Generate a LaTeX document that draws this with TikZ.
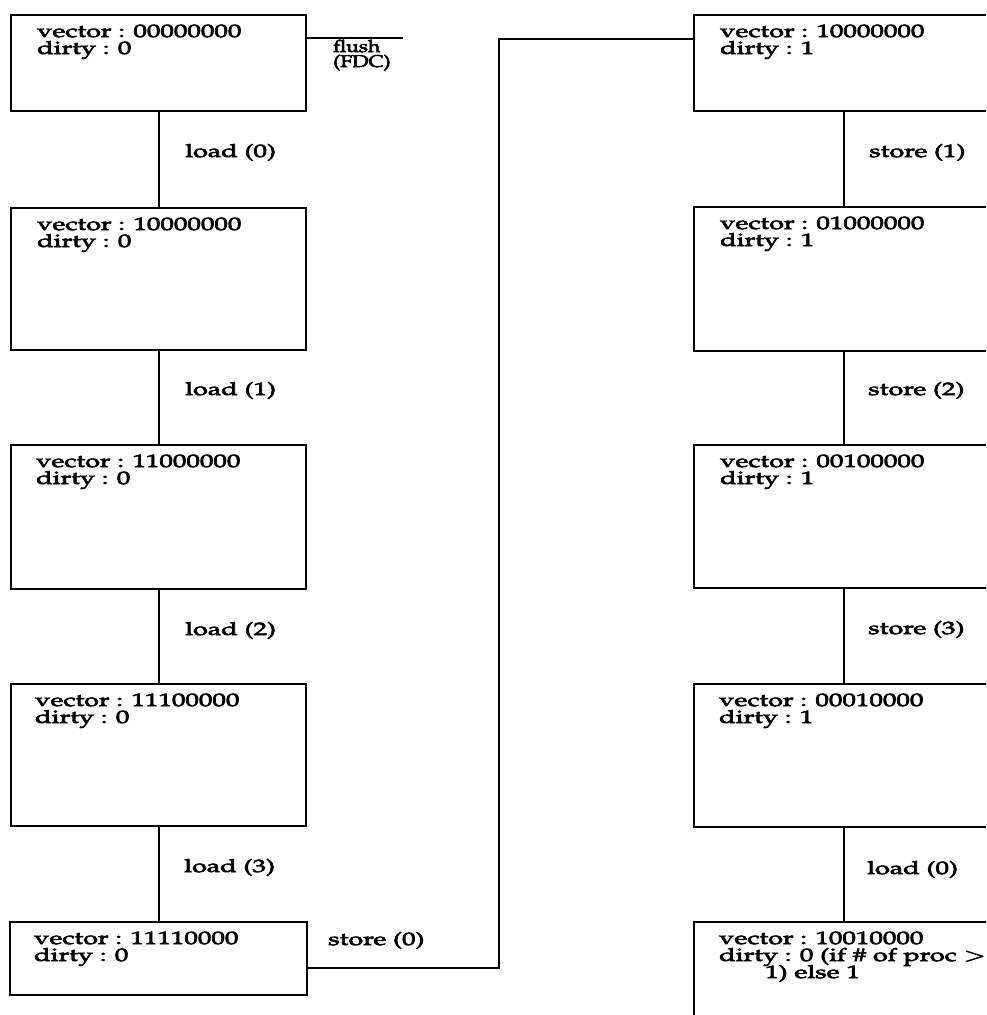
\documentclass[tikz,border=0pt]{standalone}
\usepackage[T1]{fontenc}
\usepackage{mathpazo}
\usepackage{graphicx}
\newcommand{\wt}[1]{\scalebox{1.5}[1]{#1}}
\newcommand{\wf}[1]{\scalebox{1.25}[1]{#1}}
\newcommand{\thick}{\special{pdf:literal direct 2 Tr 0.5 w}}
\begin{document}
\begin{tikzpicture}[x=1pt,y=-1pt,
  box/.style={draw,line width=2.2pt,rectangle,inner sep=0pt,anchor=north west},
  txt/.style={anchor=base west,inner sep=0pt,font=\fontsize{18}{18}\selectfont\thick},
  smalltxt/.style={anchor=base west,inner sep=0pt,font=\fontsize{17}{17}\selectfont\thick},
  conn/.style={line width=2.2pt}]
\useasboundingbox (0,0) rectangle (986,1015);
\clip (0,0) rectangle (986,1015);
% left column
\node[box,minimum width=295pt,minimum height=96pt]  (L1) at (10,14)  {};
\node[box,minimum width=295pt,minimum height=142pt] (L2) at (10,207) {};
\node[box,minimum width=295pt,minimum height=144pt] (L3) at (10,444) {};
\node[box,minimum width=295pt,minimum height=142pt] (L4) at (10,683) {};
\node[box,minimum width=297pt,minimum height=73pt]  (L5) at (9,921)  {};
% right column
\node[box,minimum width=300pt,minimum height=96pt]  (R1) at (693,14)  {};
\node[box,minimum width=300pt,minimum height=144pt] (R2) at (693,206) {};
\node[box,minimum width=300pt,minimum height=143pt] (R3) at (693,444) {};
\node[box,minimum width=300pt,minimum height=143pt] (R4) at (693,683) {};
\node[box,minimum width=300pt,minimum height=120pt] (R5) at (693,921) {};
% box texts
\node[txt] (L1a) at (37,37)  {\wt{vector : 00000000}};
\node[txt] (L1b) at (37,54)  {\wt{dirty : 0}};
\node[txt] (L2a) at (37,230) {\wt{vector : 10000000}};
\node[txt] (L2b) at (37,247) {\wt{dirty : 0}};
\node[txt] (L3a) at (36,467) {\wt{vector : 11000000}};
\node[txt] (L3b) at (36,484) {\wt{dirty : 0}};
\node[txt] (L4a) at (35,706) {\wt{vector : 11100000}};
\node[txt] (L4b) at (35,723) {\wt{dirty : 0}};
\node[txt] (L5a) at (34,944) {\wt{vector : 11110000}};
\node[txt] (L5b) at (34,961) {\wt{dirty : 0}};
\node[txt] (R1a) at (720,37)  {\wt{vector : 10000000}};
\node[txt] (R1b) at (720,54)  {\wt{dirty : 1}};
\node[txt] (R2a) at (720,229) {\wt{vector : 01000000}};
\node[txt] (R2b) at (720,246) {\wt{dirty : 1}};
\node[txt] (R3a) at (720,467) {\wt{vector : 00100000}};
\node[txt] (R3b) at (720,484) {\wt{dirty : 1}};
\node[txt] (R4a) at (719,706) {\wt{vector : 00010000}};
\node[txt] (R4b) at (719,723) {\wt{dirty : 1}};
\node[txt] (R5a) at (719,944) {\wt{vector : 10010000}};
\node[txt] (R5b) at (719,961) {\wt{dirty : 0 (if \# of proc $>$}};
\node[txt] (R5c) at (765,978) {\wt{1) else 1}};
% connectors
\draw[conn] (L1) -- (L2);
\draw[conn] (L2) -- (L3);
\draw[conn] (L3) -- (L4);
\draw[conn] (L4) -- (L5);
\draw[conn] (R1) -- (R2);
\draw[conn] (R2) -- (R3);
\draw[conn] (R3) -- (R4);
\draw[conn] (R4) -- (R5);
\coordinate (fl) at (403,38);
\draw[conn] (fl -| L1.east) -- (fl);
\coordinate (k1) at (499,968);
\coordinate (k2) at (499,39);
\draw[conn] (k1 -| L5.east) -- (k1) -- (k2) -- (k2 -| R1.west);
% edge labels
\node[smalltxt] (fa) at (333,52) {\wf{flush}};
\node[smalltxt] (fb) at (333,67) {\wf{(FDC)}};
\node[txt] (e1) at (185,157) {\wt{load (0)}};
\node[txt] (e2) at (185,395) {\wt{load (1)}};
\node[txt] (e3) at (185,635) {\wt{load (2)}};
\node[txt] (e4) at (184,872) {\wt{load (3)}};
\node[txt] (e5) at (328,945) {\wt{store (0)}};
\node[txt] (e6) at (869,157) {\wt{store (1)}};
\node[txt] (e7) at (868,395) {\wt{store (2)}};
\node[txt] (e8) at (868,634) {\wt{store (3)}};
\node[txt] (e9) at (867,874) {\wt{load (0)}};
\end{tikzpicture}
\end{document}
